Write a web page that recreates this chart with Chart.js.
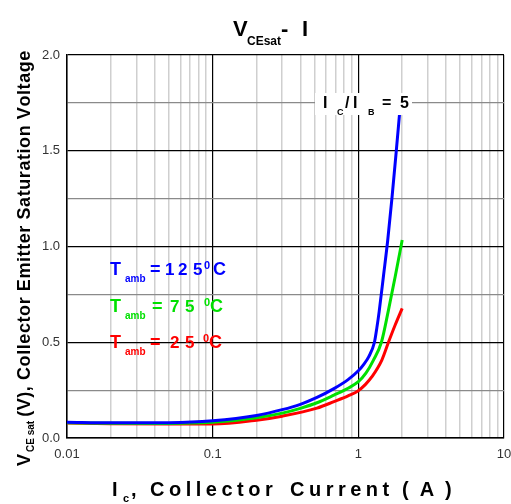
<!DOCTYPE html>
<html>
<head>
<meta charset="utf-8">
<script src="https://cdn.jsdelivr.net/npm/chart.js@4.4.0/dist/chart.umd.min.js"></script>
<style>
html,body{margin:0;padding:0;background:#fff}
#wrap{width:511px;height:504px}
</style>
</head>
<body>
<div id="wrap"><canvas id="chart" width="511" height="504"></canvas></div>
<script>
// values (Ic in A, Vce(sat) in V)
const ic125 = [0.01, 0.02, 0.05, 0.1, 0.2, 0.3, 0.4, 0.52, 0.68, 0.85, 1.0, 1.09, 1.18, 1.29, 1.34, 1.39, 1.49, 1.59, 1.70, 1.82, 1.92];
const v125  = [0.082, 0.079, 0.080, 0.090, 0.118, 0.148, 0.176, 0.212, 0.258, 0.305, 0.351, 0.385, 0.425, 0.500, 0.575, 0.660, 0.850, 1.030, 1.250, 1.495, 1.695];
const ic75  = [0.01, 0.02, 0.05, 0.1, 0.2, 0.3, 0.4, 0.52, 0.68, 0.85, 1.0, 1.13, 1.27, 1.44, 1.61, 1.79, 1.94, 2.0];
const v75   = [0.080, 0.077, 0.076, 0.082, 0.106, 0.130, 0.155, 0.184, 0.224, 0.260, 0.294, 0.340, 0.407, 0.500, 0.668, 0.842, 0.980, 1.034];
const ic25  = [0.01, 0.02, 0.05, 0.1, 0.2, 0.3, 0.52, 0.68, 0.85, 1.0, 1.12, 1.24, 1.45, 1.61, 1.79, 2.0];
const v25   = [0.078, 0.075, 0.073, 0.073, 0.093, 0.114, 0.156, 0.190, 0.220, 0.247, 0.280, 0.320, 0.407, 0.500, 0.590, 0.677];

const xDecades = [0.01, 0.1, 1];
const xMax = 10;
const yMax = 2.0;

const BLUE = '#0000ff', GREEN = '#00e000', RED = '#ff0000';
const FONT = '"Liberation Sans", Arial, sans-serif';

function pts(xs, ys){ return xs.map((x,i)=>({x:x, y:ys[i]})); }

function isDecade(v){ const l = Math.log10(v); return Math.abs(l - Math.round(l)) < 1e-6; }

// draw text char by char with extra spacing, returns end x
function spaced(ctx, s, x, y, sp){
  for (const ch of s){ ctx.fillText(ch, x, y); x += ctx.measureText(ch).width + sp; }
  return x;
}

const textPlugin = {
  id: 'texts',
  afterDraw(chart){
    const ctx = chart.ctx;
    ctx.save();
    ctx.textBaseline = 'alphabetic';
    ctx.textAlign = 'left';
    ctx.fillStyle = '#000';

    // title
    ctx.font = 'bold 22px ' + FONT;
    ctx.fillText('V', 233, 36);
    ctx.font = 'bold 12px ' + FONT;
    ctx.fillText('CEsat', 247, 45);
    ctx.font = 'bold 22px ' + FONT;
    ctx.fillText('-', 281, 36);
    ctx.fillText('I', 302, 36);

    // Ic/Ib label on white box
    ctx.fillStyle = '#fff';
    ctx.fillRect(315, 93, 97, 22);
    ctx.fillStyle = '#000';
    ctx.font = 'bold 16px ' + FONT;
    ctx.fillText('I', 323, 108);
    ctx.fillText('/', 345, 108);
    ctx.fillText('I', 353, 108);
    ctx.fillText('=', 382, 108);
    ctx.fillText('5', 400, 108);
    ctx.font = 'bold 9px ' + FONT;
    ctx.fillText('C', 337, 115);
    ctx.fillText('B', 368, 115);

    // temperature labels
    const rows = [
      {c: BLUE,  base: 275, num: ['1','2','5'], nx: [165,178,193], eq: 150, deg: 204, cx: 213},
      {c: GREEN, base: 312, num: ['7','5'],     nx: [170,185],     eq: 152, deg: 204, cx: 210},
      {c: RED,   base: 348, num: ['2','5'],     nx: [170,185],     eq: 150, deg: 203, cx: 209}
    ];
    rows.forEach(r=>{
      ctx.fillStyle = r.c;
      ctx.font = 'bold 18px ' + FONT;
      ctx.fillText('T', 110, r.base);
      ctx.fillText('=', r.eq, r.base);
      ctx.fillText('C', r.cx, r.base);
      ctx.font = 'bold 17px ' + FONT;
      r.num.forEach((d,i)=>ctx.fillText(d, r.nx[i], r.base));
      ctx.font = 'bold 10px ' + FONT;
      ctx.fillText('amb', 125, r.base + 7);
      ctx.font = 'bold 11px ' + FONT;
      ctx.fillText('0', r.deg, r.base - 6);
    });

    // x axis title
    ctx.fillStyle = '#000';
    ctx.font = 'bold 20px ' + FONT;
    ctx.fillText('I', 112, 496);
    ctx.fillText(',', 131, 496);
    spaced(ctx, 'Collector', 150, 496, 4.5);
    spaced(ctx, 'Current', 290, 496, 4.5);
    spaced(ctx, '(A)', 402, 496, 11);
    ctx.font = 'bold 11px ' + FONT;
    ctx.fillText('c', 123, 502);

    // y axis title (rotated), stretched to span the reference length
    ctx.translate(30, 466);
    ctx.rotate(-Math.PI/2);
    const main = '(V), Collector Emitter Saturation Voltage';
    const fs = 18;
    ctx.font = 'bold ' + fs + 'px ' + FONT;
    ctx.fillText('V', 0, 0);
    let w = ctx.measureText('V').width;
    ctx.font = 'bold 10px ' + FONT;
    ctx.fillText('CE sat', w + 2, 4);
    let w2 = ctx.measureText('CE sat').width;
    ctx.font = 'bold ' + fs + 'px ' + FONT;
    const start = w + w2 + 6;
    const mw = ctx.measureText(main).width;
    const sp = Math.max(0, (414 - start - mw) / (main.length - 1));
    spaced(ctx, main, start, 0, sp);
    ctx.restore();
  }
};

const xTicks = [];
xDecades.forEach(d=>{ for (let k=1;k<10;k++) xTicks.push(d*k); });
xTicks.push(xMax);

new Chart(document.getElementById('chart'), {
  type: 'line',
  data: {
    datasets: [
      {label: 'Tamb = 125 C', data: pts(ic125, v125), borderColor: BLUE},
      {label: 'Tamb = 75 C',  data: pts(ic75, v75),   borderColor: GREEN},
      {label: 'Tamb = 25 C',  data: pts(ic25, v25),   borderColor: RED}
    ].map(d=>Object.assign(d, {borderWidth: 3, pointRadius: 0, fill: false, cubicInterpolationMode: 'monotone'}))
  },
  options: {
    responsive: false,
    animation: false,
    layout: {padding: {top: 55, right: 7, left: 0, bottom: 0}},
    plugins: {legend: {display: false}, title: {display: false}, tooltip: {enabled: false}},
    scales: {
      x: {
        type: 'logarithmic',
        min: xDecades[0], max: xMax,
        afterBuildTicks: s => { s.ticks = xTicks.map(v=>({value: v})); },
        afterFit: s => { s.height = 66; s.paddingLeft = 0; s.paddingRight = 0; },
        grid: {
          drawTicks: false,
          color: c => (c.tick && isDecade(c.tick.value)) ? '#000' : '#cfcfcf',
          lineWidth: c => (c.tick && isDecade(c.tick.value)) ? 1.2 : 1.5
        },
        border: {display: true, color: '#000', width: 1.5},
        ticks: {
          autoSkip: false, maxRotation: 0, padding: 9,
          color: '#333',
          font: {family: FONT, size: 13},
          callback: v => isDecade(v) ? String(+v.toPrecision(1)) : ''
        }
      },
      y: {
        min: 0, max: yMax,
        afterFit: s => { s.width = 67; s.paddingTop = 0; s.paddingBottom = 0; },
        grid: {
          drawTicks: false,
          color: c => (c.tick && c.tick.value % 0.5 === 0) ? '#000' : '#8a8a8a',
          lineWidth: 1.2
        },
        border: {display: true, color: '#000', width: 1.5},
        ticks: {
          stepSize: 0.25, padding: 7,
          color: '#333',
          font: {family: FONT, size: 13},
          callback: v => v % 0.5 === 0 ? v.toFixed(1) : ''
        }
      }
    }
  },
  plugins: [textPlugin]
});
</script>
</body>
</html>
